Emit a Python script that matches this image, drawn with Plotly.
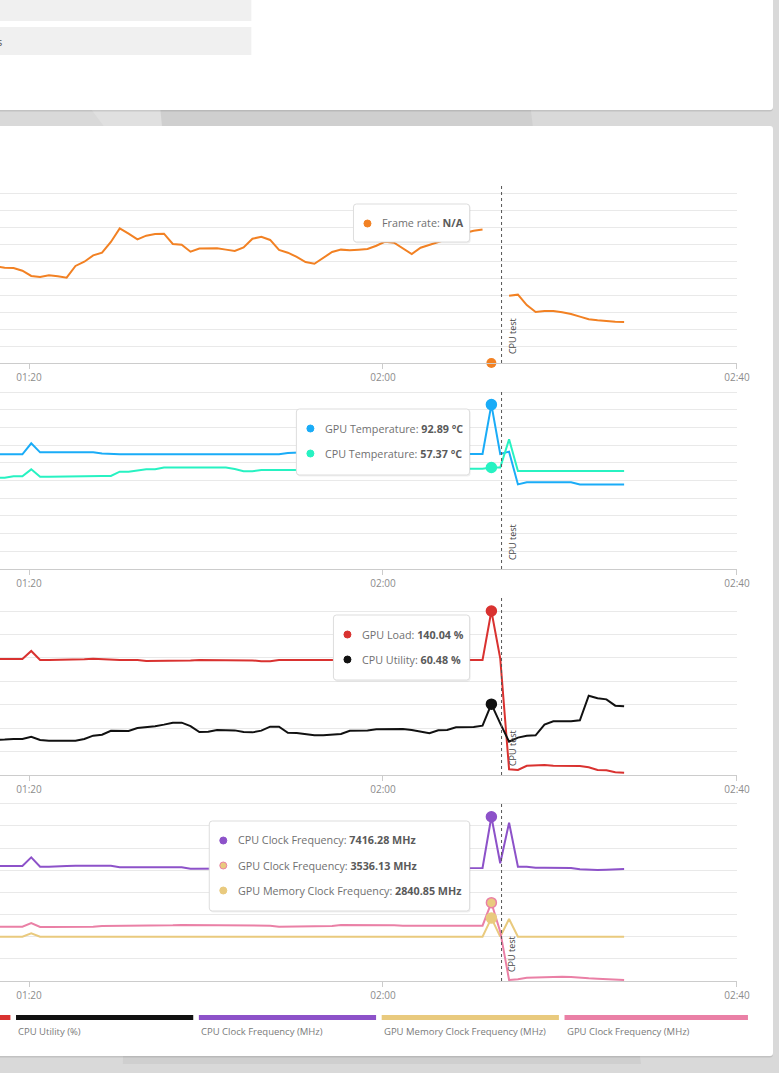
import plotly.graph_objects as go
from plotly.subplots import make_subplots

REF_W = 779               # width of the screen the layout was measured on
W, H = 793, 1064          # canvas; the last rows of the window are page background
PAGE_BG = "#d9d9d9"

# one sample per minute, the run started off screen; first sample here is 01:15:15
minutes = [75.25 + i for i in range(73)]
tick_vals = [80, 120, 160]
tick_text = ["01:20", "02:00", "02:40"]
cpu_test_at = 133.4      # plot line "CPU test"
hover_idx = 57           # sample under the mouse pointer

frame_rate = [57.0, 56.8, 56.1, 55.9, 54.3, 51.2, 50.6, 51.6, 51.0, 50.2,
              57.1, 59.6, 63.3, 64.9, 71.2, 79.2, 76.1, 72.7, 74.9, 75.9,
              76.1, 70.0, 69.6, 65.5, 67.3, 67.3, 67.5, 66.7, 65.9, 68.0,
              73.1, 74.3, 72.4, 66.5, 64.9, 62.5, 59.4, 58.4, 62.0, 65.3,
              66.7, 66.3, 66.7, 67.1, 69.0, 71.4, 70.8, 67.5, 64.1, 67.8,
              69.4, 71.0, 72.5, 74.5, 76.5, 77.8, 78.6, None, None, 39.6,
              40.2, 34.1, 30.0, 30.6, 30.6, 29.8, 28.8, 27.3, 25.7, 25.1,
              24.5, 24.3, 24.1]
gpu_temp = [64.8, 64.8, 64.8, 64.8, 64.8, 71.0, 65.9, 65.9, 65.9, 65.9,
            65.9, 65.9, 65.9, 65.2, 64.8, 64.8, 64.8, 64.8, 64.8, 64.8,
            64.8, 64.8, 64.8, 64.8, 64.8, 64.8, 64.8, 64.8, 64.8, 64.8,
            64.8, 64.8, 64.8, 64.8, 65.6, 65.9, 65.9, 65.9, 65.9, 65.9,
            65.9, 65.9, 65.9, 65.9, 65.9, 65.0, 65.0, 65.0, 65.0, 65.0,
            65.0, 65.0, 65.0, 65.0, 65.0, 65.0, 65.0, 92.89, 65.0, 66.3,
            47.8, 49.0, 49.0, 49.0, 49.0, 49.0, 49.0, 47.8, 47.8, 47.8,
            47.8, 47.8, 47.8]
cpu_temp = [51.5, 51.5, 51.6, 52.4, 52.4, 56.3, 52.1, 52.1, 52.1, 52.5,
            52.5, 52.5, 52.5, 52.5, 52.6, 55.0, 55.0, 55.6, 56.3, 56.3,
            57.3, 57.3, 57.3, 57.3, 57.3, 57.3, 57.3, 57.3, 56.5, 55.2,
            55.2, 55.9, 55.9, 55.9, 55.5, 55.9, 56.2, 56.4, 56.4, 56.6,
            56.6, 56.8, 56.8, 56.7, 56.7, 56.7, 56.7, 56.7, 56.7, 56.7,
            56.7, 56.7, 56.7, 56.7, 56.7, 56.7, 56.7, 57.37, 57.3, 73.3,
            55.4, 55.4, 55.4, 55.4, 55.4, 55.4, 55.4, 55.4, 55.4, 55.4,
            55.4, 55.4, 55.4]
gpu_load = [99.0, 99.0, 99.0, 99.0, 99.0, 105.9, 98.2, 98.2, 98.2, 98.2,
            98.2, 98.8, 99.3, 98.8, 98.2, 98.2, 98.2, 98.2, 97.3, 97.3,
            97.3, 97.3, 97.5, 97.8, 98.2, 98.2, 98.2, 98.2, 98.2, 98.2,
            97.8, 97.1, 97.1, 98.2, 98.2, 98.2, 98.2, 98.2, 98.2, 98.2,
            98.2, 98.2, 98.2, 98.2, 98.2, 98.2, 98.2, 98.2, 98.2, 98.2,
            98.2, 98.2, 98.2, 98.2, 98.2, 98.2, 98.2, 140.04, 99.6, 4.9,
            4.3, 7.9, 8.5, 8.5, 7.9, 7.7, 7.7, 7.7, 6.6, 4.3,
            4.0, 2.3, 2.0]
cpu_util = [29.9, 29.8, 30.3, 30.7, 30.7, 32.7, 29.9, 29.3, 29.0, 29.3,
            29.3, 30.7, 33.6, 34.4, 37.8, 37.6, 37.6, 40.1, 40.7, 41.6,
            43.0, 44.7, 44.7, 41.8, 36.7, 36.9, 38.4, 38.4, 38.1, 36.7,
            36.4, 37.9, 41.3, 41.3, 36.1, 35.9, 34.7, 33.9, 33.9, 34.2,
            35.0, 37.8, 37.9, 38.1, 39.0, 39.3, 39.3, 39.3, 38.4, 37.3,
            35.6, 38.2, 38.4, 40.7, 40.7, 41.0, 42.1, 60.48, 44.1, 28.5,
            31.9, 33.6, 33.9, 43.0, 45.8, 45.8, 45.8, 46.7, 67.7, 65.5,
            64.6, 59.2, 58.7]
cpu_clock = [5192, 5192, 5192, 5192, 5192, 5584, 5162, 5162, 5162, 5192,
             5207, 5207, 5207, 5207, 5207, 5132, 5132, 5132, 5132, 5132,
             5132, 5132, 5132, 5072, 5072, 5072, 5072, 5072, 5072, 5072,
             5072, 5072, 5072, 5072, 5072, 5072, 5072, 5072, 5072, 5072,
             5072, 5102, 5102, 5102, 5102, 5102, 5102, 5102, 5102, 5102,
             5102, 5102, 5102, 5102, 5102, 5102, 5102, 7416.28, 5313, 7147,
             5162, 5162, 5117, 5117, 5117, 5117, 5102, 5042, 5012, 5012,
             5027, 5057, 5057]
gpu_clock = [2453, 2453, 2453, 2453, 2453, 2618, 2438, 2438, 2438, 2438,
             2438, 2453, 2453, 2483, 2483, 2498, 2498, 2498, 2513, 2513,
             2513, 2513, 2528, 2528, 2528, 2528, 2528, 2528, 2528, 2528,
             2528, 2498, 2498, 2453, 2453, 2468, 2468, 2468, 2483, 2483,
             2528, 2528, 2528, 2543, 2543, 2513, 2513, 2498, 2498, 2498,
             2498, 2498, 2498, 2498, 2498, 2498, 2498, 3536.13, 2227, 45,
             75, 150, 165, 180, 196, 196, 180, 135, 120, 105,
             90, 60, 45]
gpu_mem_clock = [2001, 2001, 2001, 2001, 2001, 2152, 2001, 2001, 2001, 2001,
                 2001, 2001, 2001, 2001, 2001, 2001, 2001, 1994, 1994, 1994,
                 1994, 1994, 1994, 1994, 1994, 1994, 1994, 1994, 1994, 1994,
                 1994, 1994, 1994, 1994, 1994, 1994, 1994, 1994, 1994, 1994,
                 2001, 2001, 2001, 2001, 2001, 2001, 2001, 2001, 2001, 2001,
                 2001, 2001, 2001, 2001, 2001, 2001, 2001, 2840.85, 2001, 2799,
                 2001, 2001, 2001, 2001, 2001, 2001, 2001, 2001, 2001, 2001,
                 1994, 1994, 1994]

ORANGE, BLUE, TEAL = "#f28123", "#1aacf7", "#27f2c2"
RED, BLACK = "#d93230", "#111111"
PURPLE, PINK, YELLOW = "#8d52c9", "#ea80a6", "#e9ca7e"

# the legend continues to the left of the screen; only the visible part is kept
legend_names = ["", "CPU Utility (%)", "CPU Clock Frequency (MHz)",
                "GPU Memory Clock Frequency (MHz)", "GPU Clock Frequency (MHz)"]
legend_colors = [RED, BLACK, PURPLE, YELLOW, PINK]


def fx(x):
    return x / REF_W


def fy(y):
    return 1 - y / H


def rrect(x0, y0, x1, y1, r):
    return (f"M {fx(x0 + r)},{fy(y0)} L {fx(x1 - r)},{fy(y0)} "
            f"Q {fx(x1)},{fy(y0)} {fx(x1)},{fy(y0 + r)} L {fx(x1)},{fy(y1 - r)} "
            f"Q {fx(x1)},{fy(y1)} {fx(x1 - r)},{fy(y1)} L {fx(x0 + r)},{fy(y1)} "
            f"Q {fx(x0)},{fy(y1)} {fx(x0)},{fy(y1 - r)} L {fx(x0)},{fy(y0 + r)} "
            f"Q {fx(x0)},{fy(y0)} {fx(x0 + r)},{fy(y0)} Z")


fig = make_subplots(rows=4, cols=1)

# (series, colour) per panel, in drawing order
panels = [
    [(frame_rate, ORANGE)],
    [(gpu_temp, BLUE), (cpu_temp, TEAL)],
    [(gpu_load, RED), (cpu_util, BLACK)],
    [(cpu_clock, PURPLE), (gpu_mem_clock, YELLOW), (gpu_clock, PINK)],
]
for row, series in enumerate(panels, start=1):
    for values, color in series:
        fig.add_trace(go.Scatter(x=minutes, y=values, mode="lines",
                                 line=dict(color=color, width=2),
                                 connectgaps=False), row=row, col=1)

# hover markers at the sample under the pointer
t_hover = minutes[hover_idx]
fig.add_trace(go.Scatter(x=[t_hover], y=[0], mode="markers", cliponaxis=False,
                         marker=dict(color=ORANGE, size=10)), row=1, col=1)
hover_marks = [
    (2, gpu_temp, BLUE, BLUE), (2, cpu_temp, TEAL, TEAL),
    (3, gpu_load, RED, RED), (3, cpu_util, BLACK, BLACK),
    (4, cpu_clock, PURPLE, PURPLE), (4, gpu_mem_clock, YELLOW, YELLOW),
    (4, gpu_clock, YELLOW, PINK),
]
for row, values, fill, edge in hover_marks:
    fig.add_trace(go.Scatter(x=[t_hover], y=[values[hover_idx]], mode="markers",
                             cliponaxis=False,
                             marker=dict(color=fill, size=10,
                                         line=dict(color=edge, width=1.5))),
                  row=row, col=1)

# panel geometry in pixels (top, bottom) and y ranges
panel_px = [(183, 363), (389, 569), (595, 775), (802, 981)]
y_ranges = [[0, 105.9], [0, 101.7], [0, 153.7], [0, 8081]]
y_steps = [10, 10, 20, 1000]
x_view = [76.72, 160]

for i in range(4):
    top, bottom = panel_px[i]
    fig.update_xaxes(row=i + 1, col=1, domain=[0, fx(736)], range=x_view,
                     tickvals=tick_vals, ticktext=tick_text, ticks="outside",
                     ticklen=5, tickcolor="#cccccc", showline=True,
                     linecolor="#cccccc", linewidth=1, showgrid=False,
                     zeroline=False, tickfont=dict(size=10, color="#8c8c8c"))
    fig.update_yaxes(row=i + 1, col=1, domain=[fy(bottom), fy(top)],
                     range=y_ranges[i], dtick=y_steps[i], showgrid=True,
                     gridcolor="#e9e9e9", gridwidth=1, showticklabels=False,
                     zeroline=False, showline=False, ticks="")

shapes = []
annotations = []

# page background and cards
shapes.append(dict(type="path", xref="paper", yref="paper", layer="below",
                   path=(f"M {fx(160)},{fy(108)} L {fx(530)},{fy(108)} "
                         f"L {fx(642)},{fy(1080)} L {fx(122)},{fy(1080)} Z"),
                   fillcolor="#cfcfcf", line=dict(width=0)))
shapes.append(dict(type="path", xref="paper", yref="paper", layer="below",
                   path=(f"M {fx(90)},{fy(108)} L {fx(160)},{fy(108)} "
                         f"L {fx(162)},{fy(128)} L {fx(105)},{fy(128)} Z"),
                   fillcolor="#e0e0e0", line=dict(width=0)))
for y0, y1 in [(-10, 110), (126, 1056)]:
    shapes.append(dict(type="path", xref="paper", yref="paper", layer="below",
                       path=rrect(-10, y0 + 1, 772, y1 + 1.5, 3),
                       fillcolor="rgba(0,0,0,0.10)", line=dict(width=0)))
    shapes.append(dict(type="path", xref="paper", yref="paper", layer="below",
                       path=rrect(-10, y0, 772, y1, 3),
                       fillcolor="white", line=dict(width=0)))
for y0, y1 in [(-5, 21), (27, 55)]:
    shapes.append(dict(type="rect", xref="paper", yref="paper", layer="below",
                       x0=fx(-5), x1=fx(251), y0=fy(y1), y1=fy(y0),
                       fillcolor="#f0f0f0", line=dict(width=0)))
annotations.append(dict(x=fx(3.5), y=fy(41), xref="paper", yref="paper",
                        xanchor="right", yanchor="middle", showarrow=False,
                        text="s", font=dict(size=11, color="#555555")))

# CPU test plot line in every panel
for i in range(4):
    xr = "x" if i == 0 else f"x{i + 1}"
    yr = "y domain" if i == 0 else f"y{i + 1} domain"
    shapes.append(dict(type="line", xref=xr, yref=yr, x0=cpu_test_at,
                       x1=cpu_test_at, y0=0, y1=1, layer="above",
                       line=dict(color="#555555", width=1, dash="dot")))
    annotations.append(dict(x=cpu_test_at, y=0, xref=xr, yref=yr,
                            text="CPU test", textangle=-90, showarrow=False,
                            xanchor="left", yanchor="bottom", xshift=2,
                            yshift=7, font=dict(size=9, color="#444444")))

# tooltips
fr_hover = frame_rate[hover_idx]
tooltips = [
    ((353, 204, 469, 242), [(ORANGE, ORANGE, "Frame rate",
                             "N/A" if fr_hover is None else f"{fr_hover:.2f}")]),
    ((296, 409, 469, 475), [(BLUE, BLUE, "GPU Temperature", f"{gpu_temp[hover_idx]:.2f} °C"),
                            (TEAL, TEAL, "CPU Temperature", f"{cpu_temp[hover_idx]:.2f} °C")]),
    ((333, 615, 469, 680), [(RED, RED, "GPU Load", f"{gpu_load[hover_idx]:.2f} %"),
                            (BLACK, BLACK, "CPU Utility", f"{cpu_util[hover_idx]:.2f} %")]),
    ((209, 821, 469, 911), [(PURPLE, PURPLE, "CPU Clock Frequency", f"{cpu_clock[hover_idx]:.2f} MHz"),
                            (YELLOW, PINK, "GPU Clock Frequency", f"{gpu_clock[hover_idx]:.2f} MHz"),
                            (YELLOW, YELLOW, "GPU Memory Clock Frequency", f"{gpu_mem_clock[hover_idx]:.2f} MHz")]),
]
for (x0, y0, x1, y1), rows in tooltips:
    shapes.append(dict(type="path", xref="paper", yref="paper", layer="above",
                       path=rrect(x0 + 1, y0 + 1, x1 + 1, y1 + 1.5, 3),
                       fillcolor="rgba(0,0,0,0.06)", line=dict(width=0)))
    shapes.append(dict(type="path", xref="paper", yref="paper", layer="above",
                       path=rrect(x0, y0, x1, y1, 3), fillcolor="white",
                       line=dict(color="#dddddd", width=1)))
    for j, (fill, edge, label, value) in enumerate(rows):
        cy = y0 + 19.5 + 25 * j
        cx = x0 + 14
        shapes.append(dict(type="circle", xref="paper", yref="paper",
                           layer="above", x0=fx(cx - 3.5), x1=fx(cx + 3.5),
                           y0=fy(cy + 3.5), y1=fy(cy - 3.5), fillcolor=fill,
                           line=dict(color=edge, width=1)))
        annotations.append(dict(x=fx(x0 + 27), y=fy(cy), xref="paper",
                                yref="paper", xanchor="left", yanchor="middle",
                                showarrow=False,
                                text=f"{label}: <b><span style='color:#5a5a5a'>{value}</span></b>",
                                font=dict(size=10.75, color="#707070")))

# legend strip under the charts
for i, (name, color) in enumerate(zip(legend_names, legend_colors)):
    left = 16 + (i - 1) * 182.6
    right = 747 if i == len(legend_names) - 1 else left + 177
    shapes.append(dict(type="rect", xref="paper", yref="paper", layer="above",
                       x0=fx(left), x1=fx(right), y0=fy(1020), y1=fy(1015),
                       fillcolor=color, line=dict(width=0)))
    if name:
        annotations.append(dict(x=fx(left), y=fy(1031), xref="paper",
                                yref="paper", xanchor="left", yanchor="middle",
                                showarrow=False, text=name,
                                font=dict(size=9.5, color="#7a7a7a")))

fig.update_layout(
    width=W, height=H, margin=dict(l=0, r=0, t=0, b=0, pad=0),
    paper_bgcolor=PAGE_BG, plot_bgcolor="rgba(0,0,0,0)",
    font=dict(family="Open Sans, sans-serif", color="#666666"),
    showlegend=False, hovermode=False,
    shapes=shapes, annotations=annotations,
)

fig.write_html("out.html", config={"displayModeBar": False, "responsive": False},
               post_script=("document.documentElement.style.overflow='hidden';"
                            f"document.documentElement.style.background='{PAGE_BG}';"
                            "document.body.style.margin='0';"
                            f"document.body.style.background='{PAGE_BG}';"
                            "document.body.style.overflow='hidden';"))
